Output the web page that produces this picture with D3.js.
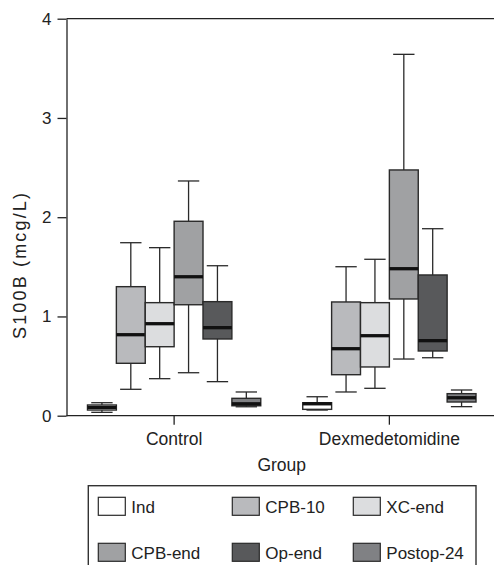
<!DOCTYPE html>
<html>
<head>
<meta charset="utf-8">
<script src="https://cdn.jsdelivr.net/npm/d3@7"></script>
<style>
  body { margin: 0; background: #fff; }
  svg { display: block; font-family: "Liberation Sans", Arial, sans-serif; }
</style>
</head>
<body>
<svg id="chart"></svg>
<script>
// groups on the x axis, one box per series inside each group
const groups = ["Control", "Dexmedetomidine"];
const series = ["Ind", "CPB-10", "XC-end", "CPB-end", "Op-end", "Postop-24"];
const fills = ["#ffffff", "#b9babd", "#dcdddf", "#a0a1a3", "#58595b", "#808184"];
const yTicks = [0, 1, 2, 3, 4];

// box statistics, one row per group, in series order
const whiskerLow = [
  [0.034, 0.266, 0.373, 0.433, 0.343, 0.09],
  [0.057, 0.239, 0.276, 0.571, 0.584, 0.091]
];
const q1 = [
  [0.057, 0.528, 0.695, 1.118, 0.773, 0.10],
  [0.064, 0.413, 0.491, 1.176, 0.652, 0.138]
];
const median = [
  [0.083, 0.816, 0.927, 1.40, 0.887, 0.12],
  [0.12, 0.675, 0.806, 1.481, 0.756, 0.181]
];
const q3 = [
  [0.108, 1.30, 1.139, 1.959, 1.149, 0.175],
  [0.131, 1.146, 1.139, 2.476, 1.418, 0.222]
];
const whiskerHigh = [
  [0.131, 1.743, 1.693, 2.365, 1.511, 0.239],
  [0.191, 1.501, 1.576, 3.641, 1.884, 0.259]
];

const width = 494;
const height = 565;
const plotLeft = 66.5, plotTop = 18.7, plotBottom = 415.7;

const svg = d3.select("#chart").attr("width", width).attr("height", height);

const y = d3.scaleLinear().domain([0, 4]).range([plotBottom, plotTop]);
const x = d3.scaleBand().domain(groups).range([plotLeft, 497]).padding(0);
const inner = d3.scaleBand().domain(series).range([0, x.bandwidth() * 0.805]);
const offset = (x.bandwidth() - inner.range()[1]) / 2;

const boxes = [];
groups.forEach((g, gi) => {
  series.forEach((s, si) => {
    boxes.push({
      group: g, series: s, fill: fills[si],
      lo: whiskerLow[gi][si], q1: q1[gi][si], med: median[gi][si],
      q3: q3[gi][si], hi: whiskerHigh[gi][si]
    });
  });
});

// y axis
const yAxis = d3.axisLeft(y).tickValues(yTicks).tickFormat(d3.format("d"))
  .tickSize(9).tickSizeOuter(0).tickPadding(6);
const gy = svg.append("g").attr("transform", "translate(" + plotLeft + ",0)").call(yAxis);
gy.selectAll("text").style("font-size", "17px").attr("fill", "#222");

// x axis
const xAxis = d3.axisBottom(x).tickSize(9).tickSizeOuter(0).tickPadding(8);
const gx = svg.append("g").attr("transform", "translate(0," + plotBottom + ")").call(xAxis);
gx.selectAll("text").style("font-size", "17.5px").attr("fill", "#222");
gx.select(".domain").attr("d", "M" + plotLeft + ",0H" + width);

svg.selectAll(".domain, .tick line").attr("stroke", "#222").attr("stroke-width", 1.3);

// top frame line
svg.append("line")
  .attr("x1", plotLeft).attr("x2", width)
  .attr("y1", plotTop).attr("y2", plotTop)
  .attr("stroke", "#222").attr("stroke-width", 1.3);

// axis titles
svg.append("text")
  .attr("transform", "translate(26," + 266 + ") rotate(-90)")
  .attr("text-anchor", "middle")
  .attr("textLength", 146).attr("lengthAdjust", "spacing")
  .style("font-size", "18px").attr("fill", "#222")
  .text("S100B (mcg/L)");

svg.append("text")
  .attr("x", x("Control") + x.bandwidth())
  .attr("y", 471)
  .attr("text-anchor", "middle")
  .style("font-size", "17.5px").attr("fill", "#222")
  .text("Group");

// boxes
const bx = (d) => x(d.group) + offset + inner(d.series);
const bw = inner.bandwidth();
const capW = bw * 0.74;

const box = svg.append("g").selectAll("g").data(boxes).enter().append("g");

box.append("line")
  .attr("x1", (d) => bx(d) + bw / 2).attr("x2", (d) => bx(d) + bw / 2)
  .attr("y1", (d) => y(d.lo)).attr("y2", (d) => y(d.hi))
  .attr("stroke", "#2a2a2a").attr("stroke-width", 1.3);

box.selectAll(".cap").data((d) => [d, d]).enter().append("line")
  .attr("x1", (d) => bx(d) + (bw - capW) / 2)
  .attr("x2", (d) => bx(d) + (bw + capW) / 2)
  .attr("y1", (d, i) => y(i ? d.hi : d.lo))
  .attr("y2", (d, i) => y(i ? d.hi : d.lo))
  .attr("stroke", "#2a2a2a").attr("stroke-width", 1.3);

box.append("rect")
  .attr("x", bx).attr("width", bw)
  .attr("y", (d) => y(d.q3))
  .attr("height", (d) => y(d.q1) - y(d.q3))
  .attr("fill", (d) => d.fill)
  .attr("stroke", "#2a2a2a").attr("stroke-width", 1.4);

box.append("line")
  .attr("x1", bx).attr("x2", (d) => bx(d) + bw)
  .attr("y1", (d) => y(d.med)).attr("y2", (d) => y(d.med))
  .attr("stroke", "#111").attr("stroke-width", 3.3);

// legend
const legend = svg.append("g");
legend.append("rect")
  .attr("x", 88.3).attr("y", 485.7)
  .attr("width", 476 - 88.3).attr("height", 100)
  .attr("fill", "none").attr("stroke", "#333").attr("stroke-width", 1.4);

const colX = [98.3, 232.3, 353.3];
const rowY = [497.3, 543.3];
const item = legend.selectAll(".item").data(series).enter().append("g")
  .attr("transform", (d, i) => "translate(" + colX[i % 3] + "," + rowY[Math.floor(i / 3)] + ")");
item.append("rect")
  .attr("width", 27).attr("height", 18)
  .attr("fill", (d, i) => fills[i])
  .attr("stroke", "#2a2a2a").attr("stroke-width", 1.2);
item.append("text")
  .attr("x", 33).attr("y", 15.5)
  .style("font-size", "17px").attr("fill", "#222")
  .text((d) => d);
</script>
</body>
</html>
